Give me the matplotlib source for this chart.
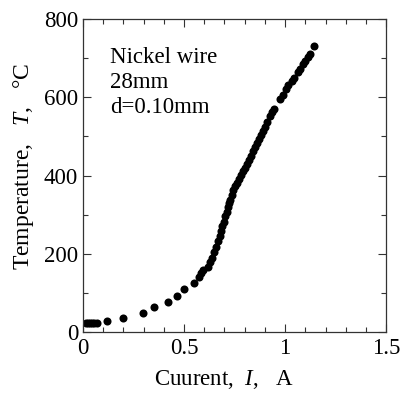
import matplotlib
matplotlib.use("Agg")
import matplotlib.pyplot as plt
from matplotlib.ticker import MultipleLocator

plt.rcParams['font.family'] = ['Liberation Serif', 'Noto Sans CJK JP']
plt.rcParams['mathtext.fontset'] = 'custom'
plt.rcParams['mathtext.it'] = 'Liberation Serif:italic'
plt.rcParams['mathtext.rm'] = 'Liberation Serif'

current = [0.015, 0.025, 0.035, 0.045, 0.055, 0.07, 0.12, 0.20, 0.295, 0.35, 0.42, 0.467,
           0.50, 0.55, 0.575, 0.585, 0.595, 0.62, 0.63, 0.64, 0.65, 0.66, 0.668, 0.676,
           0.684, 0.69, 0.697, 0.703, 0.71, 0.716, 0.722, 0.728, 0.736, 0.744, 0.752,
           0.76, 0.77, 0.78, 0.79, 0.80, 0.81, 0.82, 0.83, 0.84, 0.85, 0.86, 0.87, 0.88,
           0.89, 0.90, 0.91, 0.925, 0.935, 0.945, 0.975, 0.99, 1.005, 1.015, 1.035,
           1.045, 1.065, 1.075, 1.09, 1.10, 1.115, 1.125, 1.145]
temperature = [24, 24, 24, 24, 24, 23, 28, 36, 50, 63, 77, 92,
               110, 126, 142, 150, 158, 167, 178, 190, 205, 218, 232, 245,
               258, 270, 282, 296, 308, 320, 330, 338, 350, 362, 372,
               381, 392, 402, 412, 420, 430, 440, 450, 462, 472, 482, 494, 504,
               514, 524, 536, 552, 562, 570, 595, 605, 620, 630, 642,
               650, 665, 672, 684, 692, 702, 710, 730]

fig = plt.figure(figsize=(4.01, 3.94), dpi=100)
ax = fig.add_axes([0.207, 0.157, 0.756, 0.795])
ax.plot(current, temperature, 'o', color='black', markersize=5.8, markeredgewidth=0)

ax.set_xlim(0, 1.5)
ax.set_ylim(0, 800)
ax.xaxis.set_minor_locator(MultipleLocator(0.1))
ax.yaxis.set_major_locator(MultipleLocator(200))
ax.yaxis.set_minor_locator(MultipleLocator(100))
ax.set_xticks([0, 0.5, 1, 1.5])
ax.set_xticklabels(['0', '0.5', '1', '1.5'])
ax.tick_params(which='both', direction='in', top=True, right=True, labelsize=16.5,
               width=0.8, color='#333333')
ax.tick_params(which='major', length=6)
ax.tick_params(which='minor', length=3.5)
ax.tick_params(axis='x', which='major', pad=4.5)
ax.tick_params(axis='y', which='major', pad=3.5)
for s in ax.spines.values():
    s.set_linewidth(0.9)
    s.set_color('#333333')

ax.set_xlabel('Cuurent,  $I$,   A', fontsize=16.5)
ax.xaxis.set_label_coords(0.465, -0.115)
ax.set_ylabel('Temperature,   $T$,   °C', fontsize=17)
ax.yaxis.set_label_coords(-0.155, 0.53)

ax.text(0.089, 0.91, 'Nickel wire\n28mm\nd=0.10mm', transform=ax.transAxes,
        fontsize=16.5, va='top', ha='left', linespacing=1.25)

fig.savefig('out.png', dpi=100)
